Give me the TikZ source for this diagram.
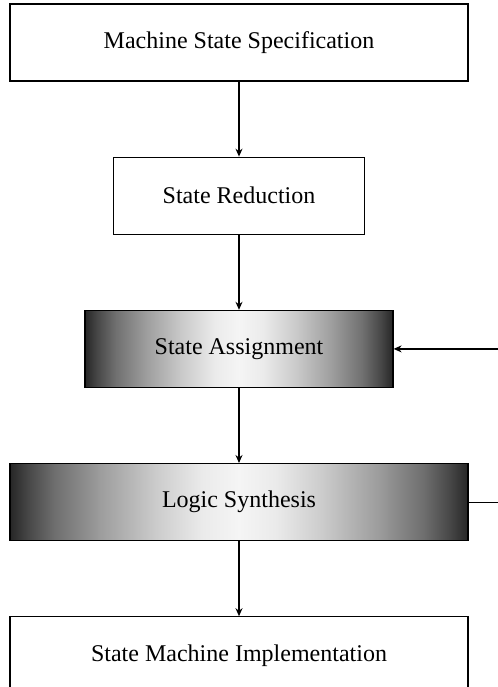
\documentclass[tikz,border=0pt]{standalone}
\usepackage{fontspec}
\setmainfont{Liberation Serif}
\usepackage{tikz}
\usetikzlibrary{positioning, arrows.meta}

% dark at the sides, white in the middle
\pgfdeclarehorizontalshading{edgeglow}{100bp}{%
    color(0bp)=(black!85); color(25bp)=(black!85); color(27bp)=(black!72);
    color(30bp)=(black!56); color(35bp)=(black!38); color(41bp)=(black!20);
    color(46bp)=(black!8); color(50bp)=(black!4);
    color(54bp)=(black!8); color(59bp)=(black!20); color(65bp)=(black!38);
    color(70bp)=(black!56); color(73bp)=(black!72);
    color(75bp)=(black!85); color(100bp)=(black!85)}

\begin{document}
\begin{tikzpicture}[x=0.5pt, y=-0.5pt,
    stage/.style={draw, line width=0.6pt, minimum height=38.5pt, inner sep=0pt,
        font=\fontsize{12}{14}\selectfont},
    shaded stage/.style={stage, shading=edgeglow},
    flow/.style={line width=0.6pt, -{Stealth[length=4pt, width=3.5pt]}},
    node distance=37.5pt]
    \useasboundingbox (0, 0) rectangle (498, 687);
    \clip (0, 0) rectangle (498, 687);

    \node[stage, minimum width=229pt] (spec) at (239, 42.5) {Machine State Specification};
    \node[stage, minimum width=125.5pt, below=of spec] (reduce) {State Reduction};
    \node[shaded stage, minimum width=154pt, below=of reduce] (assign) {State Assignment};
    \node[shaded stage, minimum width=229pt, below=of assign] (synth) {Logic Synthesis};
    \node[stage, minimum width=229pt, below=of synth] (impl) {State Machine Implementation};

    \draw[flow] (spec) -- (reduce);
    \draw[flow] (reduce) -- (assign);
    \draw[flow] (assign) -- (synth);
    \draw[flow] (synth) -- (impl);

    % feedback loop, cut off by the page edge
    \draw[flow] (synth.east) -- ++(40, 0) |- (assign.east);
\end{tikzpicture}
\end{document}
